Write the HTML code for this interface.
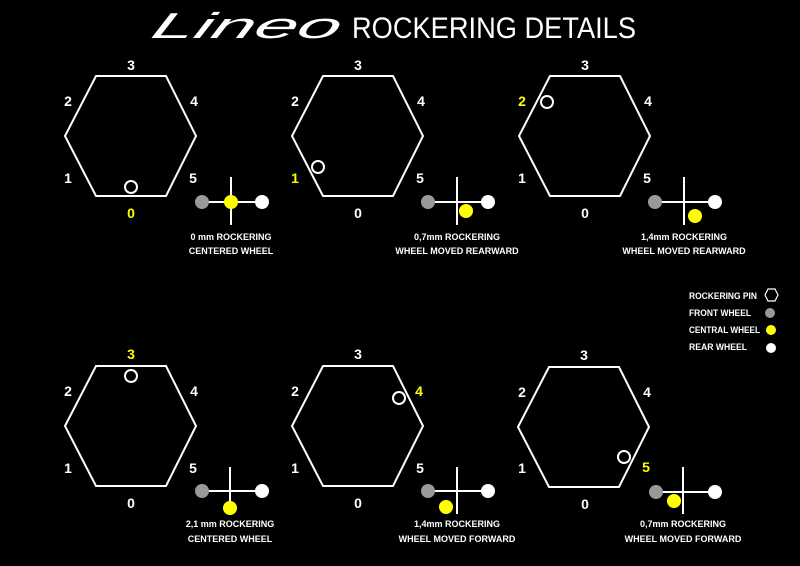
<!DOCTYPE html>
<html><head><meta charset="utf-8"><style>
html,body{margin:0;padding:0;background:#000;}
svg{display:block;}
text{font-family:"Liberation Sans",sans-serif;font-weight:bold;}
.n{font-size:14px;fill:#fff;text-anchor:middle;}
.y{fill:#ffff00;}
.c{font-size:9px;fill:#fff;text-anchor:middle;}
.l{font-size:9px;fill:#fff;}
.hex{fill:none;stroke:#fff;stroke-width:2;}
.pin{fill:none;stroke:#fff;stroke-width:2;}
.ln{stroke:#fff;stroke-width:2;}
</style></head><body>
<svg width="800" height="566" viewBox="0 0 800 566" xmlns="http://www.w3.org/2000/svg">
<rect width="800" height="566" fill="#000"/>
<text x="150" y="38" font-size="36" font-style="italic" fill="#fff" textLength="188" lengthAdjust="spacingAndGlyphs" transform="skewX(-20) translate(13,0)" style="font-weight:normal">Lineo</text>
<text x="352" y="38" font-size="30" fill="#fff" textLength="284" lengthAdjust="spacingAndGlyphs" style="font-weight:normal">ROCKERING DETAILS</text>

<!-- Panel A -->
<g transform="translate(131,136)">
<polygon class="hex" points="-66,0 -35,-60 35,-60 65,0 35,60 -35,60"/>
<text class="n" x="0" y="-66">3</text><text class="n" x="-63" y="-30">2</text><text class="n" x="63" y="-30">4</text>
<text class="n" x="-63" y="47">1</text><text class="n" x="62" y="47">5</text><text class="n y" x="0" y="82">0</text>
<circle class="pin" cx="0" cy="51" r="6"/>
</g>
<g transform="translate(231,202)">
<line class="ln" x1="0" y1="-25" x2="0" y2="23"/><line class="ln" x1="-29" y1="0" x2="31" y2="0"/>
<circle cx="-29" cy="0" r="7" fill="#999"/><circle cx="31" cy="0" r="7" fill="#fff"/><circle cx="0" cy="0" r="7" fill="#ffff00"/>
<text class="c" x="0" y="38">0 mm ROCKERING</text><text class="c" x="0" y="52">CENTERED WHEEL</text>
</g>

<!-- Panel B -->
<g transform="translate(358,136)">
<polygon class="hex" points="-66,0 -35,-60 35,-60 65,0 35,60 -35,60"/>
<text class="n" x="0" y="-66">3</text><text class="n" x="-63" y="-30">2</text><text class="n" x="63" y="-30">4</text>
<text class="n y" x="-63" y="47">1</text><text class="n" x="62" y="47">5</text><text class="n" x="0" y="82">0</text>
<circle class="pin" cx="-40" cy="31" r="6"/>
</g>
<g transform="translate(457,202)">
<line class="ln" x1="0" y1="-25" x2="0" y2="23"/><line class="ln" x1="-29" y1="0" x2="31" y2="0"/>
<circle cx="-29" cy="0" r="7" fill="#999"/><circle cx="31" cy="0" r="7" fill="#fff"/><circle cx="9" cy="9" r="7" fill="#ffff00"/>
<text class="c" x="0" y="38">0,7mm ROCKERING</text><text class="c" x="0" y="52">WHEEL MOVED REARWARD</text>
</g>

<!-- Panel C -->
<g transform="translate(585,136)">
<polygon class="hex" points="-66,0 -35,-60 35,-60 65,0 35,60 -35,60"/>
<text class="n" x="0" y="-66">3</text><text class="n y" x="-63" y="-30">2</text><text class="n" x="63" y="-30">4</text>
<text class="n" x="-63" y="47">1</text><text class="n" x="62" y="47">5</text><text class="n" x="0" y="82">0</text>
<circle class="pin" cx="-38" cy="-34" r="6"/>
</g>
<g transform="translate(684,202)">
<line class="ln" x1="0" y1="-25" x2="0" y2="23"/><line class="ln" x1="-29" y1="0" x2="31" y2="0"/>
<circle cx="-29" cy="0" r="7" fill="#999"/><circle cx="31" cy="0" r="7" fill="#fff"/><circle cx="11" cy="14" r="7" fill="#ffff00"/>
<text class="c" x="0" y="38">1,4mm ROCKERING</text><text class="c" x="0" y="52">WHEEL MOVED REARWARD</text>
</g>

<!-- Panel D -->
<g transform="translate(131,426)">
<polygon class="hex" points="-66,0 -35,-60 35,-60 65,0 35,60 -35,60"/>
<text class="n y" x="0" y="-67">3</text><text class="n" x="-63" y="-30">2</text><text class="n" x="63" y="-30">4</text>
<text class="n" x="-63" y="47">1</text><text class="n" x="62" y="47">5</text><text class="n" x="0" y="82">0</text>
<circle class="pin" cx="0" cy="-50" r="6"/>
</g>
<g transform="translate(230,491)">
<line class="ln" x1="0" y1="-24" x2="0" y2="12"/><line class="ln" x1="-28" y1="0" x2="32" y2="0"/>
<circle cx="-28" cy="0" r="7" fill="#999"/><circle cx="32" cy="0" r="7" fill="#fff"/><circle cx="0" cy="17" r="7" fill="#ffff00"/>
<text class="c" x="0" y="36">2,1 mm ROCKERING</text><text class="c" x="0" y="51">CENTERED WHEEL</text>
</g>

<!-- Panel E -->
<g transform="translate(358,426)">
<polygon class="hex" points="-66,0 -35,-60 35,-60 65,0 35,60 -35,60"/>
<text class="n" x="0" y="-67">3</text><text class="n" x="-63" y="-30">2</text><text class="n y" x="61" y="-30">4</text>
<text class="n" x="-63" y="47">1</text><text class="n" x="62" y="47">5</text><text class="n" x="0" y="82">0</text>
<circle class="pin" cx="41" cy="-28" r="6"/>
</g>
<g transform="translate(457,491)">
<line class="ln" x1="0" y1="-24" x2="0" y2="23"/><line class="ln" x1="-29" y1="0" x2="31" y2="0"/>
<circle cx="-29" cy="0" r="7" fill="#999"/><circle cx="31" cy="0" r="7" fill="#fff"/><circle cx="-11" cy="16" r="7" fill="#ffff00"/>
<text class="c" x="0" y="36">1,4mm ROCKERING</text><text class="c" x="0" y="51">WHEEL MOVED FORWARD</text>
</g>

<!-- Panel F -->
<g transform="translate(584,427)">
<polygon class="hex" points="-66,0 -35,-60 35,-60 65,0 35,60 -35,60"/>
<text class="n" x="0" y="-67">3</text><text class="n" x="-62" y="-30">2</text><text class="n" x="63" y="-30">4</text>
<text class="n" x="-62" y="46">1</text><text class="n y" x="62" y="45">5</text><text class="n" x="1" y="82">0</text>
<circle class="pin" cx="40" cy="30" r="6"/>
</g>
<g transform="translate(683,492)">
<line class="ln" x1="0" y1="-25" x2="0" y2="22"/><line class="ln" x1="-27" y1="0" x2="32" y2="0"/>
<circle cx="-27" cy="0" r="7" fill="#999"/><circle cx="32" cy="0" r="7" fill="#fff"/><circle cx="-9" cy="9" r="7" fill="#ffff00"/>
<text class="c" x="0" y="35">0,7mm ROCKERING</text><text class="c" x="0" y="50">WHEEL MOVED FORWARD</text>
</g>

<!-- Legend -->
<text class="l" x="689" y="299" textLength="68" lengthAdjust="spacingAndGlyphs">ROCKERING PIN</text>
<polygon points="765,295 768,289 775,289 778,295 775,301 768,301" fill="none" stroke="#fff" stroke-width="1.2"/>
<text class="l" x="689" y="316" textLength="62" lengthAdjust="spacingAndGlyphs">FRONT WHEEL</text><circle cx="770" cy="313" r="5" fill="#999"/>
<text class="l" x="689" y="333" textLength="71" lengthAdjust="spacingAndGlyphs">CENTRAL WHEEL</text><circle cx="771" cy="330" r="5" fill="#ffff00"/>
<text class="l" x="689" y="350" textLength="58" lengthAdjust="spacingAndGlyphs">REAR WHEEL</text><circle cx="771" cy="348" r="5" fill="#fff"/>
</svg>
</body></html>
